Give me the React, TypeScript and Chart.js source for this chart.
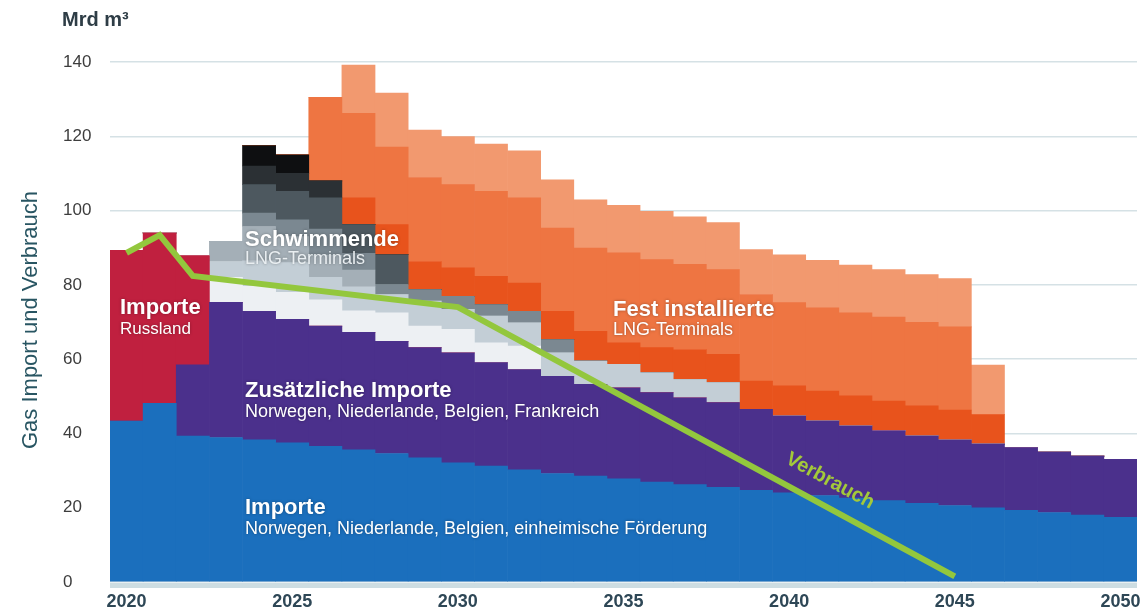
import React, { useEffect, useRef } from 'react';
import { Chart, registerables } from 'chart.js';

Chart.register(...registerables);

const years = [
  '2020', '2021', '2022', '2023', '2024', '2025', '2026', '2027', '2028', '2029',
  '2030', '2031', '2032', '2033', '2034', '2035', '2036', '2037', '2038', '2039',
  '2040', '2041', '2042', '2043', '2044', '2045', '2046', '2047', '2048', '2049', '2050',
];

// Importe Norwegen, Niederlande, Belgien, einheimische Förderung
const importeBasis = [
  43.3, 48.1, 39.3, 38.9, 38.3, 37.5, 36.5, 35.6, 34.6, 33.4,
  32.1, 31.2, 30.2, 29.2, 28.5, 27.8, 26.9, 26.2, 25.5, 24.7,
  24.0, 23.3, 22.6, 21.9, 21.2, 20.6, 20.0, 19.3, 18.7, 18.0, 17.4,
];
// Zusätzliche Importe
const importeZusatz = [
  0, 0, 19.2, 36.4, 34.6, 33.2, 32.4, 31.6, 30.2, 29.7,
  29.6, 27.9, 27.0, 26.2, 24.7, 24.5, 24.1, 23.4, 22.8, 21.8,
  20.7, 20.0, 19.4, 18.8, 18.1, 17.6, 17.1, 16.9, 16.3, 15.9, 15.6,
];
// Importe Russland
const importeRussland = [
  46.0, 45.9, 29.4, 0, 0, 0, 0, 0, 0, 0,
  0, 0, 0, 0, 0, 0, 0, 0, 0, 0,
  0, 0, 0, 0, 0, 0, 0, 0, 0, 0, 0,
];
// Schwimmende LNG-Terminals (Schichten von hell nach dunkel)
const flsru1 = [
  0, 0, 0, 6.7, 6.7, 7.3, 7.1, 5.8, 7.7, 5.8,
  6.3, 5.3, 6.3, 0, 0, 0, 0, 0, 0, 0,
  0, 0, 0, 0, 0, 0, 0, 0, 0, 0, 0,
];
const flsru2 = [
  0, 0, 0, 4.3, 6.9, 8.0, 6.0, 6.5, 4.9, 6.7,
  5.4, 7.2, 6.3, 6.3, 6.3, 6.3, 5.3, 4.9, 5.4, 0,
  0, 0, 0, 0, 0, 0, 0, 0, 0, 0, 0,
];
const flsru3 = [
  0, 0, 0, 5.4, 9.2, 7.0, 6.0, 4.5, 0, 0,
  0, 0, 0, 0, 0, 0, 0, 0, 0, 0,
  0, 0, 0, 0, 0, 0, 0, 0, 0, 0, 0,
];
const flsru4 = [
  0, 0, 0, 0, 3.6, 4.5, 7.0, 4.5, 2.7, 3.1,
  3.5, 3.1, 3.1, 3.6, 0, 0, 0, 0, 0, 0,
  0, 0, 0, 0, 0, 0, 0, 0, 0, 0, 0,
];
const flsru5 = [
  0, 0, 0, 0, 7.7, 7.7, 8.4, 7.7, 8.0, 0,
  0, 0, 0, 0, 0, 0, 0, 0, 0, 0,
  0, 0, 0, 0, 0, 0, 0, 0, 0, 0, 0,
];
const flsru6 = [
  0, 0, 0, 0, 5.0, 4.8, 4.6, 0, 0, 0,
  0, 0, 0, 0, 0, 0, 0, 0, 0, 0,
  0, 0, 0, 0, 0, 0, 0, 0, 0, 0, 0,
];
const flsru7 = [
  0, 0, 0, 0, 5.5, 5.0, 0, 0, 0, 0,
  0, 0, 0, 0, 0, 0, 0, 0, 0, 0,
  0, 0, 0, 0, 0, 0, 0, 0, 0, 0, 0,
];
// Fest installierte LNG-Terminals
const lngFest1 = [
  0, 0, 0, 0, 0, 0, 0, 7.2, 8.1, 7.6,
  7.7, 7.6, 7.6, 7.6, 8.0, 5.8, 6.8, 8.1, 7.6, 7.6,
  8.1, 8.1, 8.1, 8.0, 8.1, 8.1, 8.0, 0, 0, 0, 0,
];
const lngFest2 = [
  0, 0, 0, 0, 0, 0, 22.5, 22.8, 20.9, 22.6,
  22.4, 22.9, 22.9, 22.4, 22.4, 24.2, 23.7, 22.9, 22.8, 23.3,
  22.4, 22.4, 22.4, 22.6, 22.5, 22.4, 0, 0, 0, 0, 0,
];
const lngFest3 = [
  0, 0, 0, 0, 0, 0, 0, 13.0, 14.5, 12.8,
  12.9, 12.7, 12.7, 13.0, 13.0, 12.8, 13.0, 12.8, 12.7, 12.1,
  12.9, 12.8, 12.8, 12.8, 12.9, 13.0, 13.3, 0, 0, 0, 0,
];
// Verbrauch (Stützpunkte der Linie)
const verbrauch = [
  88.6, 93.4, 82.4, null, null, null, null, null, null, null,
  74.0, null, null, null, null, null, null, null, null, null,
  null, null, null, null, null, 1.5, null, null, null, null, null,
];

const yTicks = [0, 20, 40, 60, 80, 100, 120, 140];
const xTickYears = ['2020', '2025', '2030', '2035', '2040', '2045', '2050'];

const FONT = '"Liberation Sans", Arial, Helvetica, sans-serif';

const annotationPlugin = {
  id: 'annotations',
  afterDatasetsDraw(chart: any) {
    const ctx = chart.ctx as CanvasRenderingContext2D;
    const area = chart.chartArea;
    ctx.save();
    // baseline strip
    ctx.fillStyle = '#cddde2';
    ctx.fillRect(area.left, area.bottom + 1, area.right - area.left, 5);

    const txt = (s: string, x: number, y: number, size: number, bold: boolean, color: string) => {
      ctx.font = `${bold ? 'bold ' : ''}${size}px ${FONT}`;
      ctx.fillStyle = color;
      ctx.textAlign = 'left';
      ctx.textBaseline = 'middle';
      ctx.fillText(s, x, y);
    };
    ctx.shadowColor = 'rgba(0,0,0,0.35)';
    ctx.shadowBlur = 3;
    txt('Importe', 120, 308, 22, true, '#ffffff');
    txt('Russland', 120, 329, 17, false, '#ffffff');
    txt('Schwimmende', 245, 240, 22, true, '#ffffff');
    txt('LNG-Terminals', 245, 259, 18, false, '#e9eef1');
    txt('Zusätzliche Importe', 245, 391, 22, true, '#ffffff');
    txt('Norwegen, Niederlande, Belgien, Frankreich', 245, 412, 18, false, '#ffffff');
    txt('Fest installierte', 613, 310, 22, true, '#ffffff');
    txt('LNG-Terminals', 613, 330, 18, false, '#ffffff');
    txt('Importe', 245, 508, 22, true, '#ffffff');
    txt('Norwegen, Niederlande, Belgien, einheimische Förderung', 245, 529, 18, false, '#ffffff');
    ctx.shadowColor = 'rgba(0,0,0,0)';
    ctx.shadowBlur = 0;

    // Verbrauch label along the line
    ctx.save();
    ctx.translate(830, 481);
    ctx.rotate((28.5 * Math.PI) / 180);
    ctx.font = `bold 20px ${FONT}`;
    ctx.fillStyle = '#a3c93a';
    ctx.textAlign = 'center';
    ctx.textBaseline = 'middle';
    ctx.fillText('Verbrauch', 0, 0);
    ctx.restore();

    // unit
    ctx.font = `bold 20px ${FONT}`;
    ctx.fillStyle = '#2e3d46';
    ctx.textAlign = 'left';
    ctx.textBaseline = 'middle';
    ctx.fillText('Mrd m³', 62, 20);

    // y title
    ctx.save();
    ctx.translate(31, 320);
    ctx.rotate(-Math.PI / 2);
    ctx.font = `22px ${FONT}`;
    ctx.fillStyle = '#285562';
    ctx.textAlign = 'center';
    ctx.textBaseline = 'middle';
    ctx.fillText('Gas Import und Verbrauch', 0, 0);
    ctx.restore();

    ctx.restore();
  },
};

export default function App() {
  const canvasRef = useRef<HTMLCanvasElement | null>(null);

  useEffect(() => {
    const canvas = canvasRef.current;
    if (!canvas) return;

    const bar = (label: string, data: number[], color: string) => ({
      type: 'bar' as const,
      label,
      data,
      backgroundColor: color,
      borderWidth: 0,
      barPercentage: 1,
      categoryPercentage: 1,
      stack: 'mix',
      order: 2,
    });

    const chart = new Chart(canvas, {
      type: 'bar',
      data: {
        labels: years,
        datasets: [
          bar('Importe Norwegen, Niederlande, Belgien, einheimische Förderung', importeBasis, '#1b6fbd'),
          bar('Zusätzliche Importe', importeZusatz, '#4b308c'),
          bar('Importe Russland', importeRussland, '#c0203f'),
          bar('Schwimmende LNG-Terminals 1', flsru1, '#edf0f3'),
          bar('Schwimmende LNG-Terminals 2', flsru2, '#c3ced6'),
          bar('Schwimmende LNG-Terminals 3', flsru3, '#a4afb7'),
          bar('Schwimmende LNG-Terminals 4', flsru4, '#7b8891'),
          bar('Schwimmende LNG-Terminals 5', flsru5, '#4d585f'),
          bar('Schwimmende LNG-Terminals 6', flsru6, '#2b3034'),
          bar('Schwimmende LNG-Terminals 7', flsru7, '#0e0f11'),
          bar('Fest installierte LNG-Terminals 1', lngFest1, '#e8531c'),
          bar('Fest installierte LNG-Terminals 2', lngFest2, '#ee7542'),
          bar('Fest installierte LNG-Terminals 3', lngFest3, '#f2996f'),
          {
            type: 'line' as const,
            label: 'Verbrauch',
            data: verbrauch as any,
            borderColor: '#93c73d',
            borderWidth: 6,
            pointRadius: 0,
            spanGaps: true,
            tension: 0,
            fill: false,
            stack: 'verbrauch',
            order: 0,
          } as any,
        ],
      },
      options: {
        responsive: false,
        animation: false,
        events: [],
        layout: { padding: { left: 63, top: 62, right: 0, bottom: 0 } },
        plugins: {
          legend: { display: false },
          tooltip: { enabled: false },
        },
        scales: {
          x: {
            stacked: true,
            offset: true,
            grid: { display: false, drawTicks: false },
            border: { display: false },
            ticks: {
              autoSkip: false,
              maxRotation: 0,
              padding: 9,
              color: '#2e4756',
              font: { family: FONT, size: 18, weight: 'bold' },
              callback: (_v: any, i: number) => (xTickYears.includes(years[i]) ? years[i] : ''),
            },
            afterFit: (s: any) => {
              s.height = 30;
            },
          } as any,
          y: {
            stacked: true,
            min: 0,
            max: 140,
            grid: { color: '#d5e1e5', lineWidth: 1.5, drawTicks: false },
            border: { display: false },
            afterBuildTicks: (s: any) => {
              s.ticks = yTicks.map((v) => ({ value: v }));
            },
            ticks: {
              crossAlign: 'far',
              color: '#3d3d3d',
              font: { family: FONT, size: 17 },
            },
            afterFit: (s: any) => {
              s.width = 47;
            },
          } as any,
        },
      },
      plugins: [annotationPlugin],
    });

    // neutralise label overflow padding on the x axis
    const xs: any = chart.scales.x;
    const origFit = xs.fit.bind(xs);
    xs.fit = function () {
      origFit();
      this.paddingLeft = 0;
      this.paddingRight = 0;
    };
    chart.update();

    return () => chart.destroy();
  }, []);

  return (
    <div style={{ position: 'fixed', left: 0, top: 0, width: 1140, height: 612, background: '#ffffff' }}>
      <canvas ref={canvasRef} width={1140} height={612} style={{ display: 'block' }} />
    </div>
  );
}
